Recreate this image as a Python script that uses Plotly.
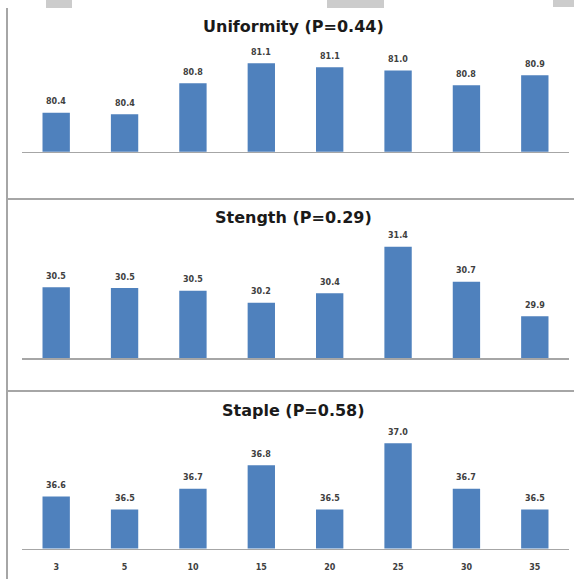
import plotly.graph_objects as go

categories = ["3", "5", "10", "15", "20", "25", "30", "35"]
uniformity = [80.38, 80.36, 80.82, 81.12, 81.06, 81.01, 80.79, 80.94]
strength = [30.54, 30.52, 30.46, 30.20, 30.41, 31.42, 30.66, 29.91]
staple = [36.60, 36.50, 36.66, 36.84, 36.50, 37.01, 36.66, 36.50]
titles = ["Uniformity (P=0.44)", "Stength (P=0.29)", "Staple (P=0.58)"]

W, H = 574, 579
BAR = "#4F81BD"
GRID = "#A6A6A6"
TXT = "#404040"
FONT = "DejaVu Sans"

def px(y):
    return 1 - y / H

panels = [
    dict(vals=uniformity, rng=[79.8, 81.467], dom=[px(151.7), px(40)], ty=27),
    dict(vals=strength, rng=[29.0, 31.739], dom=[px(358), px(232)], ty=218),
    dict(vals=staple, rng=[36.2, 37.188], dom=[px(548.5), px(420)], ty=410),
]

fig = go.Figure()
annotations = []
xdom = [22 / W, 569 / W]
for i, p in enumerate(panels):
    n = i + 1
    xa = "x" if n == 1 else f"x{n}"
    ya = "y" if n == 1 else f"y{n}"
    fig.add_trace(go.Bar(x=categories, y=p["vals"], xaxis=xa, yaxis=ya,
                         marker=dict(color=BAR, line=dict(width=0)),
                         hoverinfo="skip", showlegend=False))
    for j, v in enumerate(p["vals"]):
        annotations.append(dict(x=j, y=v, xref=xa, yref=ya, text=f"{v:.1f}",
                                showarrow=False, yshift=11, yanchor="middle",
                                font=dict(family=FONT, size=8, color=TXT, weight="bold")))
    annotations.append(dict(x=293 / W, y=px(p["ty"]), xref="paper", yref="paper",
                            text=f"<b>{titles[i]}</b>", showarrow=False,
                            xanchor="center", yanchor="middle",
                            font=dict(family=FONT, size=16, color="#1a1a1a")))
    xkey = "xaxis" if n == 1 else f"xaxis{n}"
    ykey = "yaxis" if n == 1 else f"yaxis{n}"
    fig.update_layout(**{
        xkey: dict(domain=xdom, anchor=ya, type="category", range=[-0.5, 7.5],
                   showline=True, linecolor=GRID, linewidth=1.5, showgrid=False,
                   zeroline=False, showticklabels=(n == 3), ticks="",
                   ticklabelstandoff=10,
                   tickfont=dict(family=FONT, size=8, color=TXT, weight="bold"),
                   fixedrange=True),
        ykey: dict(domain=p["dom"], anchor=xa, range=p["rng"], visible=False,
                   fixedrange=True),
    })

shapes = [
    dict(type="line", xref="paper", yref="paper", x0=7 / W, x1=7 / W, y0=px(8), y1=0,
         line=dict(color=GRID, width=2)),
    dict(type="line", xref="paper", yref="paper", x0=7 / W, x1=1, y0=px(199), y1=px(199),
         line=dict(color=GRID, width=2)),
    dict(type="line", xref="paper", yref="paper", x0=7 / W, x1=1, y0=px(391), y1=px(391),
         line=dict(color=GRID, width=2)),
]
for x0, x1, y1 in [(46, 72, 8), (327, 384, 8), (553, 574, 7)]:
    shapes.append(dict(type="rect", xref="paper", yref="paper", x0=x0 / W, x1=x1 / W,
                       y0=px(y1), y1=1, fillcolor="#CCCCCC", line=dict(width=0)))

fig.update_layout(width=W, height=H, margin=dict(l=0, r=0, t=0, b=0),
                  paper_bgcolor="white", plot_bgcolor="white",
                  bargap=0.6, annotations=annotations, shapes=shapes,
                  font=dict(family=FONT))
fig.write_html("out.html", config={"displayModeBar": False, "staticPlot": True},
               post_script="document.body.style.margin='0';document.body.style.overflow='hidden';")
